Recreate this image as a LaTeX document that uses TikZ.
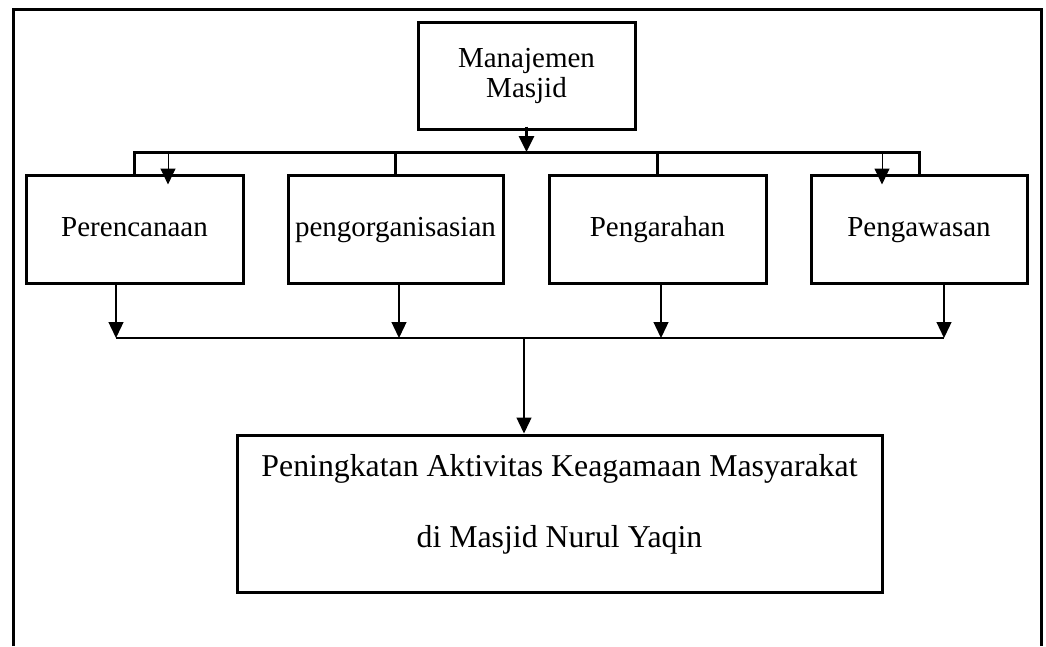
\documentclass[tikz,border=0pt]{standalone}
\usepackage{fontspec}
\setmainfont{Liberation Serif}
\usetikzlibrary{arrows.meta, positioning}

\begin{document}
\begin{tikzpicture}[x=1pt, y=-1pt,
  box/.style={draw, line width=3pt, minimum height=108pt, inner sep=2pt,
    text height=20pt, text depth=6pt, font=\fontsize{29}{30}\selectfont},
  link/.style={line width=3pt},
  rail/.style={line width=1.4pt},
  flow/.style={-{Triangle[length=16pt, width=15pt]}, line width=1.3pt}
]
\useasboundingbox (0,0) rectangle (1046,646);
\draw[line width=2.8pt] (13.5,646) -- (13.5,9.5) -- (1041.5,9.5) -- (1041.5,646);

\node[box, minimum width=217pt, minimum height=107pt, align=center, text height=, text depth=] (mm) at (526.5,75.5) {Manajemen\\Masjid};
\node[box, minimum width=217pt] (plan) at (134.5,229) {Perencanaan};
\node[box, minimum width=215pt] (org) at (395.5,229) {pengorganisasian};
\node[box, minimum width=217pt] (dir) at (657.5,229) {Pengarahan};
\node[box, minimum width=216pt] (ctrl) at (919,229) {Pengawasan};
\node[box, minimum width=645pt, minimum height=157pt, text height=, text depth=] (goal) at (559.5,513.5) {};
\node[font=\fontsize{31.8}{38}\selectfont, align=center] (goaltext) at ([yshift=9.5pt]goal.center)
  {Peningkatan Aktivitas Keagamaan Masyarakat\\[33pt] di Masjid Nurul Yaqin};

% bus from the top box
\coordinate (top) at (526.5,152);
\draw[flow, line width=3pt] ([yshift=4pt]mm.south) -- (mm.south |- top);
\draw[link] (plan.north) |- (ctrl.north |- top) -- (ctrl.north);
\draw[link] (org.north) -- (org.north |- top);
\draw[link] (dir.north) -- (dir.north |- top);
\draw[flow, line width=1pt] ([xshift=33.5pt]plan.north |- top) -- ([xshift=33.5pt, yshift=-11pt]plan.north);
\draw[flow, line width=1pt] ([xshift=-37pt]ctrl.north |- top) -- ([xshift=-37pt, yshift=-11pt]ctrl.north);

% bus to the bottom box
\coordinate (mid) at (524,338);
\draw[flow] ([xshift=-18.5pt]plan.south) -- ([xshift=-18.5pt]plan.south |- mid);
\draw[flow] ([xshift=3.5pt]org.south) -- ([xshift=3.5pt]org.south |- mid);
\draw[flow] ([xshift=3.5pt]dir.south) -- ([xshift=3.5pt]dir.south |- mid);
\draw[flow] ([xshift=25pt]ctrl.south) -- ([xshift=25pt]ctrl.south |- mid);
\draw[rail] ([xshift=-18.5pt]plan.south |- mid) -- ([xshift=25pt]ctrl.south |- mid);
\draw[flow] (mid) -- (goal.north -| mid);
\end{tikzpicture}
\end{document}
